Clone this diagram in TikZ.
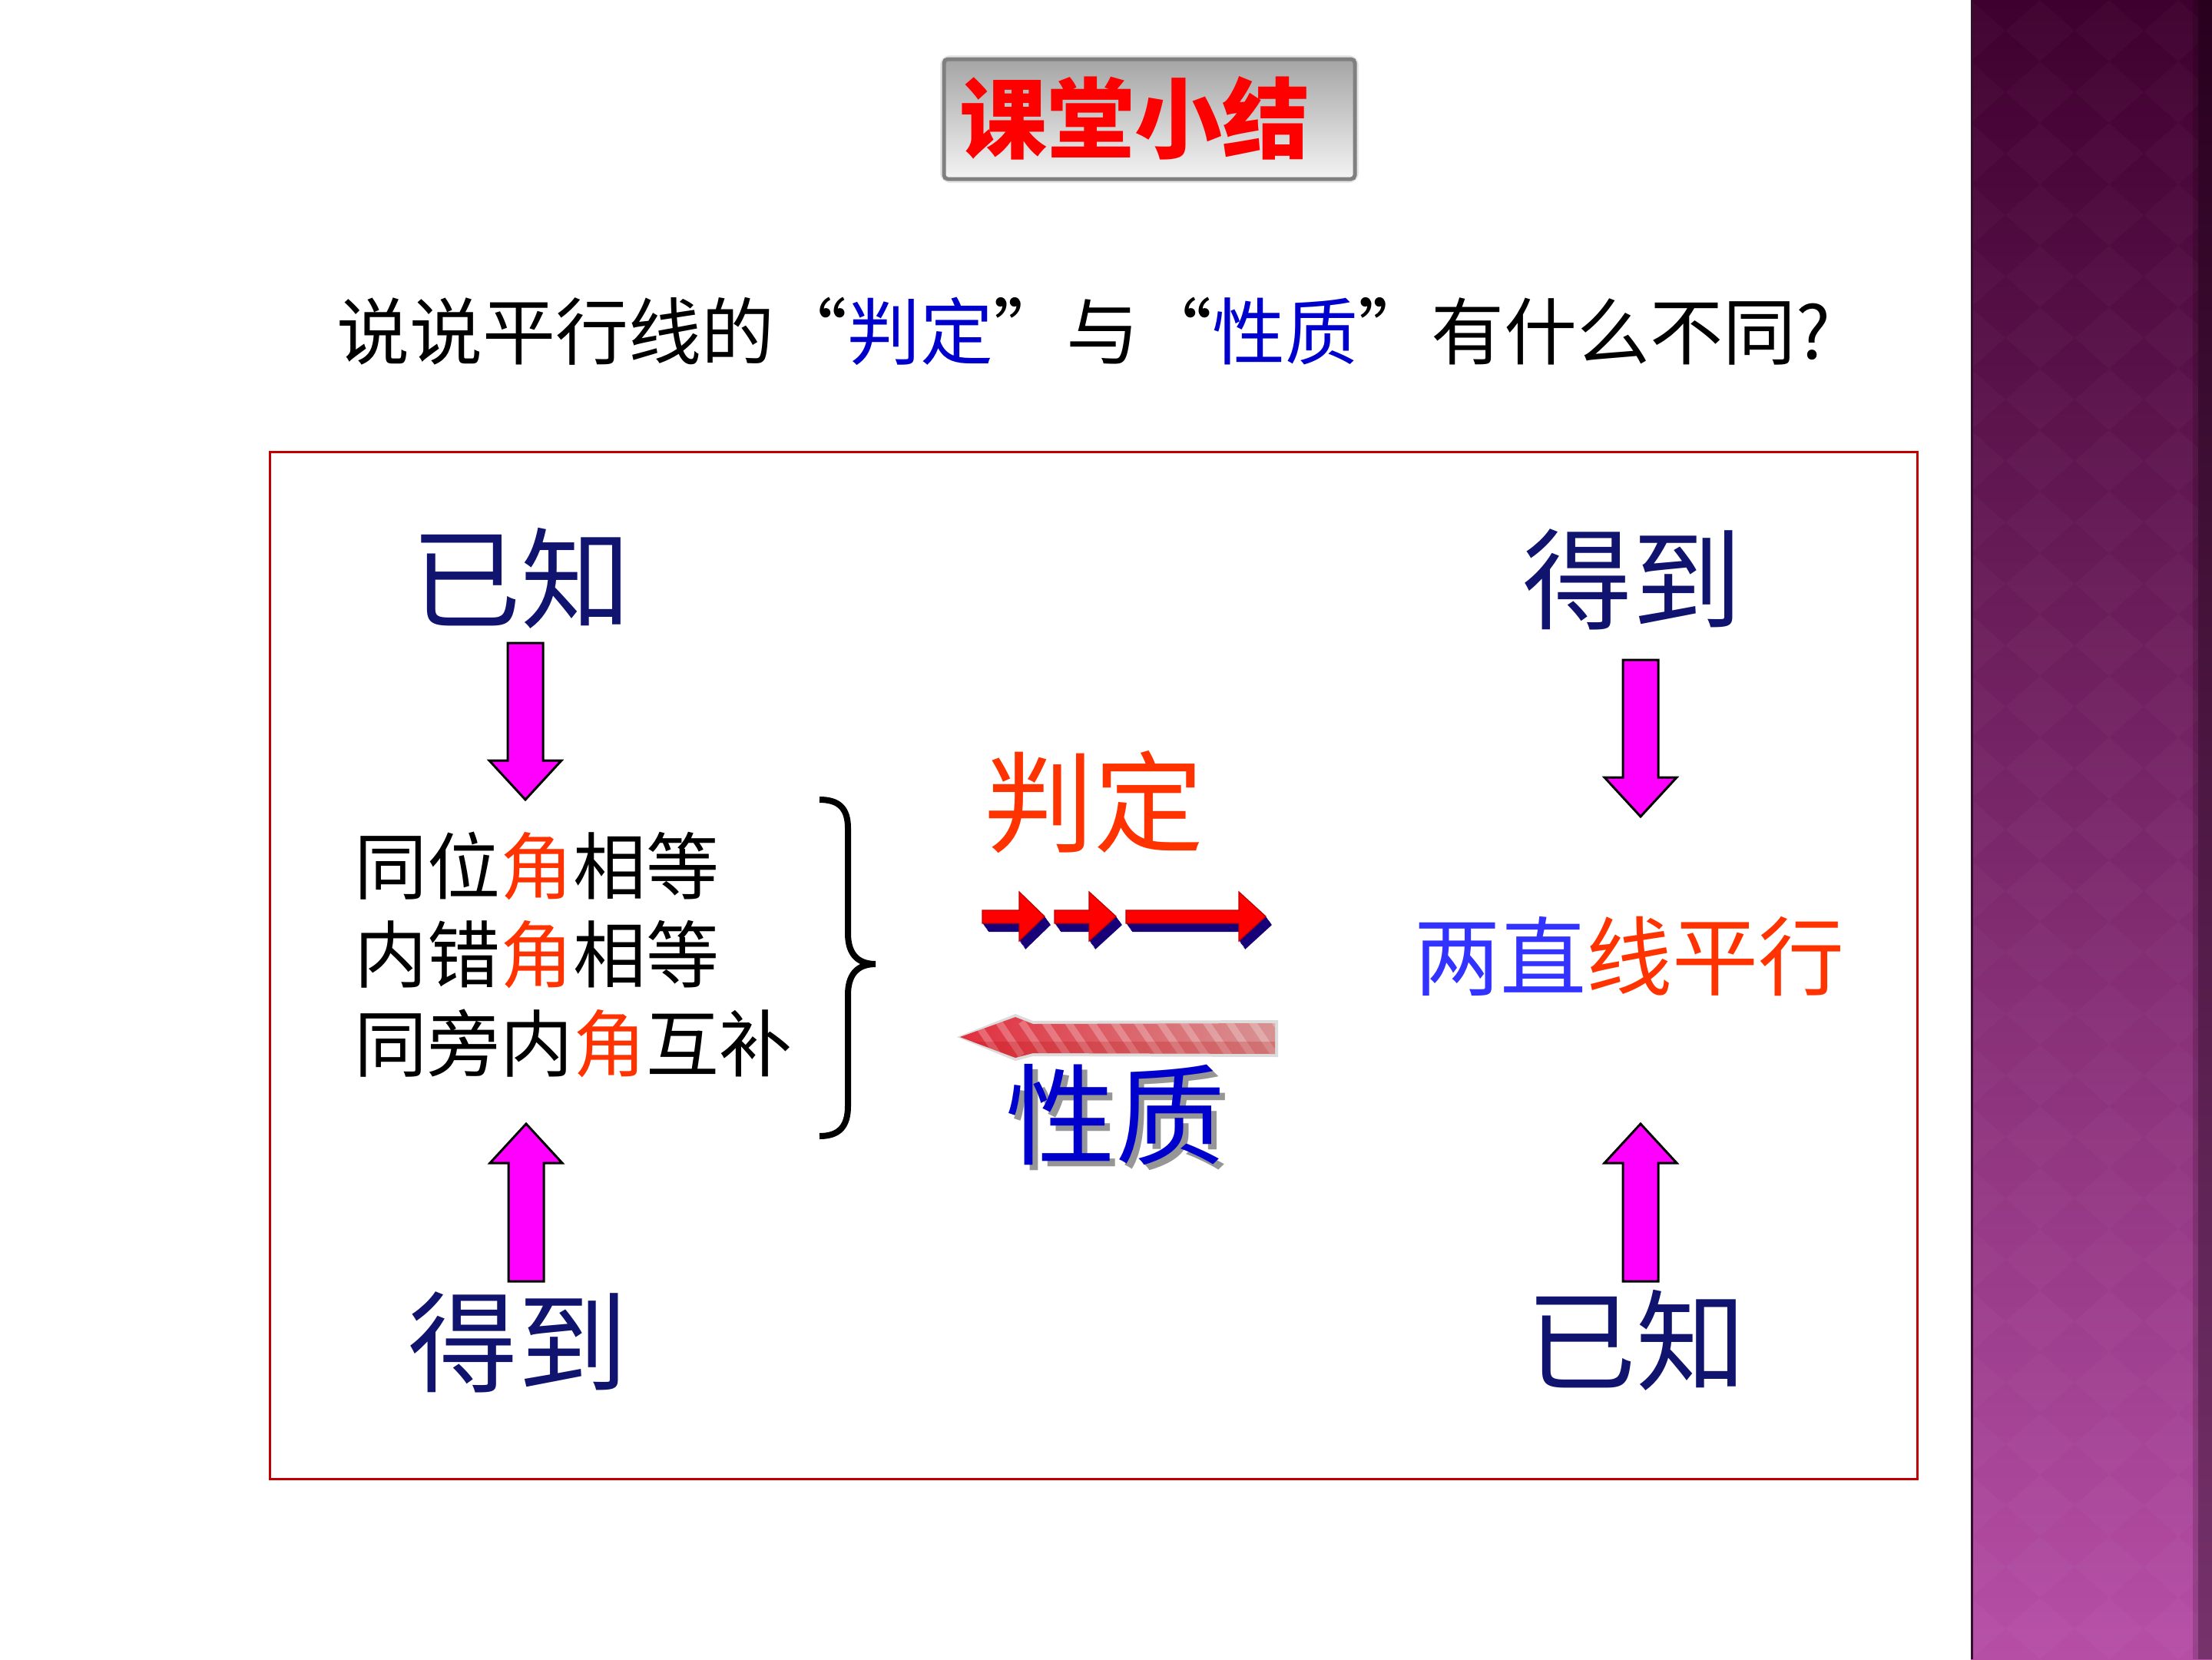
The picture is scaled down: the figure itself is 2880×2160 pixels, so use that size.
\documentclass[tikz,border=0pt]{standalone}
\usepackage{fontspec}
\setmainfont{Noto Sans CJK SC}
\usetikzlibrary{calc}
\definecolor{navy}{RGB}{16,20,110}
\definecolor{ored}{RGB}{255,51,0}
\definecolor{qblue}{RGB}{0,0,204}
\definecolor{lblue}{RGB}{51,51,255}
\definecolor{framered}{RGB}{192,0,0}
\definecolor{mag}{RGB}{255,0,255}
\definecolor{shadenavy}{RGB}{24,0,120}
\definecolor{bandtop}{RGB}{62,0,46}
\definecolor{bandmid}{RGB}{140,48,125}
\definecolor{bandbot}{RGB}{182,78,166}
\definecolor{bandedge}{RGB}{50,15,45}
\definecolor{boxtop}{RGB}{165,165,165}
\definecolor{boxbot}{RGB}{244,244,244}
\definecolor{boxline}{RGB}{128,128,128}
\definecolor{blurA}{RGB}{225,45,60}
\definecolor{blurB}{RGB}{215,150,150}
\definecolor{textshadow}{RGB}{150,150,150}
\newcommand\fatarrow[2]{%
  \draw[magarrow] ($(#1)+(-23,0)$) -- ($(#1)+(23,0)$)
    -- ($(#2)!51pt!(#1)+(23,0)$) -- ($(#2)!51pt!(#1)+(47,0)$)
    -- (#2) -- ($(#2)!51pt!(#1)+(-47,0)$)
    -- ($(#2)!51pt!(#1)+(-23,0)$) -- cycle;}
\newcommand\rap[4]{\fill[#4] (#1,1185) -- (#2,1185) -- (#2,1161) -- (#3,1193)
    -- (#2,1225) -- (#2,1202) -- (#1,1202) -- cycle;}
\newcommand\redarr[3]{%
  \foreach \k in {1,...,10}{%
    \begin{scope}[shift={(0.8*\k,1.1*\k)}]\rap{#1}{#2}{#3}{shadenavy}\end{scope}}
  \rap{#1}{#2}{#3}{redface}}
\begin{document}
\begin{tikzpicture}[x=1pt,y=-1pt,
  magarrow/.style={fill=mag, draw=black, line width=3, line join=miter},
  redface/.style={fill=red, draw=red!75!black, line width=1.2},
  navytext/.style={text=navy, inner sep=0, font=\fontsize{143}{160}\selectfont},
  listtext/.style={anchor=west, inner sep=0, font=\fontsize{95}{110}\selectfont},
  bigtext/.style={inner sep=0, font=\fontsize{143}{160}\selectfont}]
\useasboundingbox (0,0) rectangle (2880,2160);
\fill[white] (0,0) rectangle (2880,2160);
% purple band
\shade[top color=bandtop, middle color=bandmid, bottom color=bandbot] (2566,0) rectangle (2880,2160);
\begin{scope}
  \clip (2568,0) rectangle (2862,2160);
  \foreach \i in {0,...,4}{\foreach \j in {-1,...,27}{%
    \fill[white, opacity=0.022] ({2566+\i*90},{\j*80}) -- ++(45,40) -- ++(-45,40) -- ++(-45,-40) -- cycle;}}
\end{scope}
\fill[black, opacity=0.15] (2855,0) rectangle (2862,2160);
\fill[black, opacity=0.35] (2862,0) rectangle (2880,2160);
\draw[bandedge, line width=3] (2567,0) -- (2567,2160);
% title
\draw[gray!20, line width=10, rounded corners=8] (1229,77) rectangle (1764,233);
\node[draw=boxline, line width=5, rounded corners=5, top color=boxtop, bottom color=boxbot,
  minimum width=535, minimum height=156, inner sep=0] (title) at (1496.5,155) {};
\node[text=red, inner sep=0, font=\fontsize{114}{130}\selectfont\bfseries] (titletext) at (1477,154) {课堂小结};
% question
\node[anchor=west, inner sep=0, font=\fontsize{95}{110}\selectfont] (q) at (438,431)
  {说说平行线的“{\color{qblue}判定}”与“{\color{qblue}性质}”有什么不同?};
% frame
\draw[framered, line width=3] (351,588) rectangle (2496,1925);
% corner texts
\node[navytext] (known1) at (678,753) {已知};
\node[navytext] (got1) at (2125,754) {得到};
\node[navytext] (got2) at (674,1747) {得到};
\node[navytext] (known2) at (2130,1745) {已知};
% list
\node[listtext] (l1) at (461,1127) {同位{\color{ored}角}相等};
\node[listtext] (l2) at (461,1243) {内错{\color{ored}角}相等};
\node[listtext] (l3) at (461,1358) {同旁内{\color{ored}角}互补};
% brace
\draw[line width=8] (1067,1041) .. controls (1092,1041) and (1104,1052) .. (1104,1078)
  -- (1104,1215) .. controls (1104,1240) and (1115,1255) .. (1140,1255)
  .. controls (1115,1255) and (1104,1270) .. (1104,1295)
  -- (1104,1440) .. controls (1104,1467) and (1092,1479) .. (1067,1479);
% right statement
\node[inner sep=0, font=\fontsize{112}{130}\selectfont] (parallel) at (2121,1245)
  {{\color{lblue}两直}{\color{ored}线平行}};
% middle labels
\node[bigtext, text=ored] (pd) at (1424,1044) {判定};
\node[bigtext] (xz) at (1452,1455)
  {\rlap{\hspace{7pt}\raisebox{-7pt}{\color{textshadow}性质}}{\color{qblue}性质}};
% forward arrows
\redarr{1279}{1327}{1360}
\redarr{1373}{1418}{1453}
\redarr{1466}{1613}{1648}
% blurry backward arrow
\begin{scope}
  \fill[gray!60, opacity=0.45] (1246,1350) -- (1322,1320) -- (1345,1329) -- (1664,1328)
    -- (1664,1376) -- (1345,1375) -- (1322,1381) -- cycle;
  \path[clip] (1250,1350) -- (1322,1324) -- (1345,1333) -- (1660,1332)
    -- (1660,1372) -- (1345,1371) -- (1322,1377) -- cycle;
  \shade[left color=blurA, right color=blurB] (1240,1310) rectangle (1670,1390);
  \foreach \s in {0,...,13}{%
    \draw[white, opacity=0.25, line width=9] ({1270+\s*30},1330) -- ({1300+\s*30},1374);}
  \fill[red!70!black, opacity=0.2] (1240,1356) rectangle (1670,1377);
\end{scope}
% magenta arrows
\coordinate (a1s) at (684,837);  \coordinate (a1e) at (684,1041);
\coordinate (a2s) at (2136,859); \coordinate (a2e) at (2136,1063);
\coordinate (a3s) at (685,1668); \coordinate (a3e) at (685,1463);
\coordinate (a4s) at (2136,1668); \coordinate (a4e) at (2136,1463);
\fatarrow{a1s}{a1e}
\fatarrow{a2s}{a2e}
\fatarrow{a3s}{a3e}
\fatarrow{a4s}{a4e}
\end{tikzpicture}
\end{document}
